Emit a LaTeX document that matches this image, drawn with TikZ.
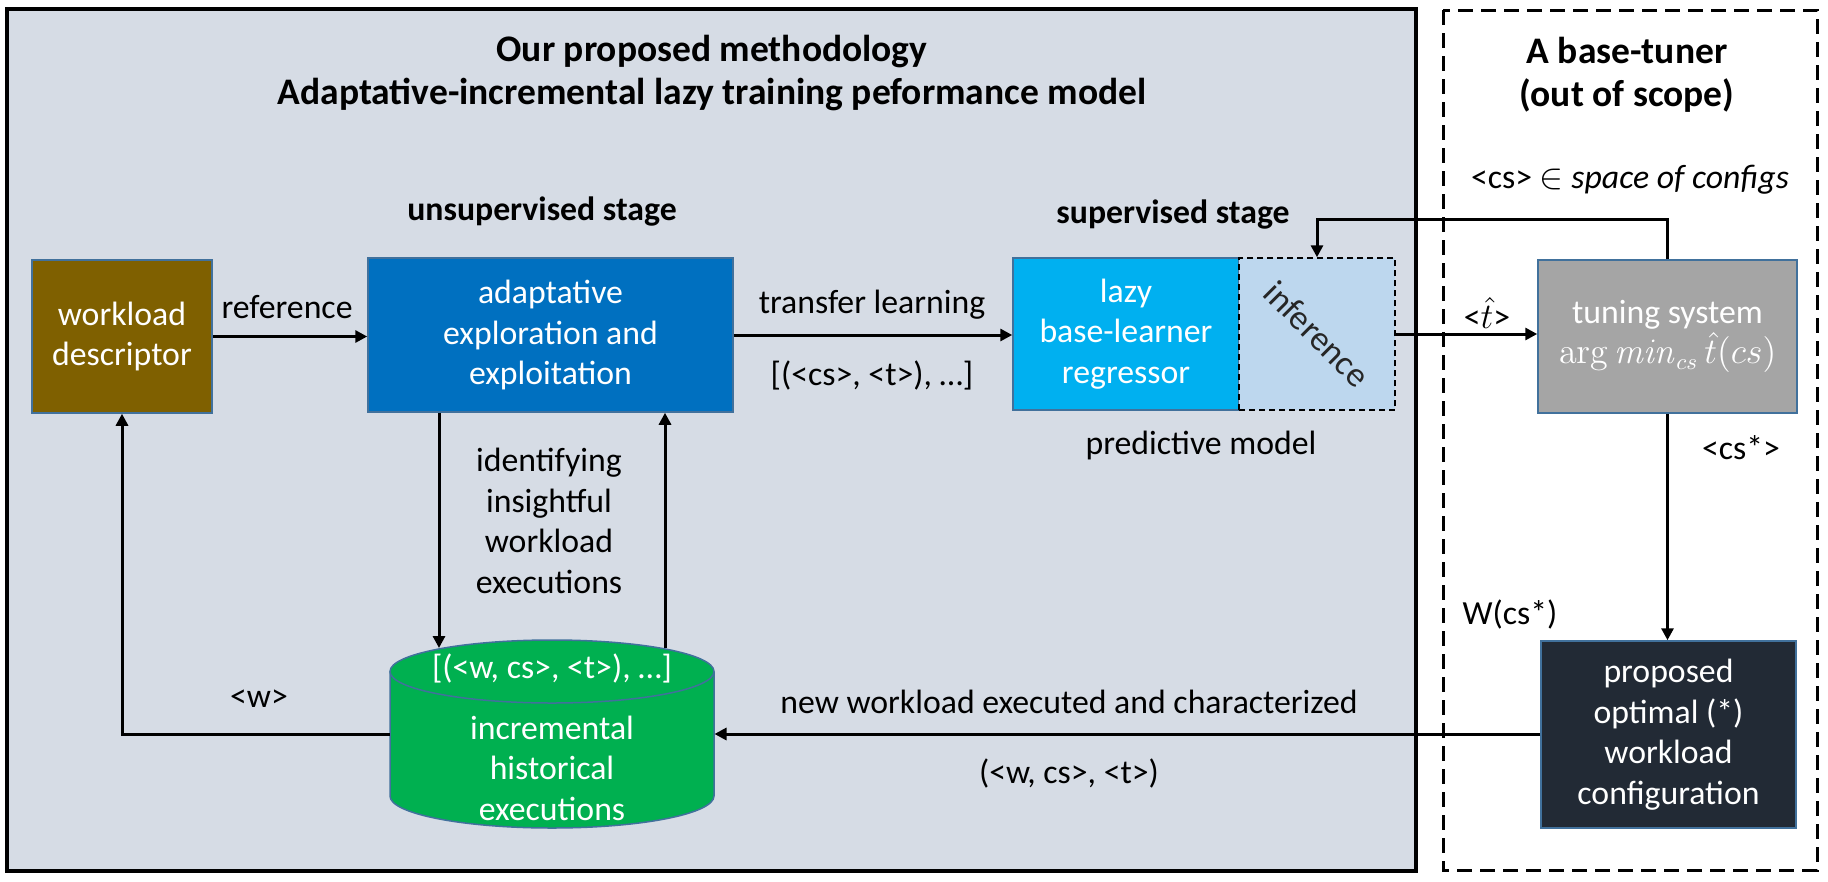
\documentclass[tikz,border=0pt]{standalone}
\usepackage[no-math]{fontspec}
\setmainfont{Carlito}
\usetikzlibrary{arrows.meta}
\definecolor{panel}{HTML}{D6DCE5}
\definecolor{edge}{HTML}{41719C}
\definecolor{brwn}{HTML}{7F6000}
\definecolor{blu}{HTML}{0070C0}
\definecolor{cyn}{HTML}{00B0F0}
\definecolor{infb}{HTML}{BDD7EE}
\definecolor{gry}{HTML}{A5A5A5}
\definecolor{drk}{HTML}{222A35}
\definecolor{grn}{HTML}{00B050}
\newcommand\blk[6]{\node(#1)[blk,fill=#2,minimum width=#3,minimum height=#4] at (#5) {#6};}

\begin{document}
\begin{tikzpicture}[x=0.4pt,y=-0.4pt,
    every node/.style={font=\fontsize{13.5}{16.2}\selectfont,align=center,inner sep=0pt},
    blk/.style={draw=edge,line width=0.6pt,text=white},
    ttl/.style={font=\fontsize{15}{17.2}\selectfont\bfseries},
    stg/.style={font=\fontsize{13.5}{16.2}\selectfont\bfseries},
    arr/.style={line width=1.2pt,-{Triangle[length=4.8pt,width=4.8pt]}}]
    \useasboundingbox (0,0) rectangle (1828,881);
    \draw[line width=1.4pt,fill=panel] (7,9) rectangle (1416,871);
    \draw[line width=1.2pt,dash pattern=on 6pt off 3.2pt] (1443,10) rectangle (1817,870);

    \node(title)[ttl] at (712,73) {Our proposed methodology\\Adaptative-incremental lazy training peformance model};
    \node(tuner)[ttl] at (1627,75) {A base-tuner\\(out of scope)};
    \node(unsup)[stg] at (542,212) {unsupervised stage};
    \node(sup)[stg] at (1173,215) {supervised stage};
    \node(space) at (1630,180) {<cs> $\in$ \textit{space of configs}};

    \blk{wd}{brwn}{72pt}{61.2pt}{122,336.5}{workload\\descriptor}
    \blk{ae}{blu}{146pt}{61.6pt}{550.5,335}{adaptative\\exploration and\\exploitation}
    \blk{lz}{cyn}{90.4pt}{60.8pt}{1126,334}{lazy\\base-learner\\regressor}
    \node(inf)[draw,line width=0.6pt,dash pattern=on 2.4pt off 1.6pt,fill=infb,minimum width=62.4pt,minimum height=60.8pt] at (1317,334) {};
    \node(linf)[rotate=-45,text=black!85,font=\fontsize{14}{16}\selectfont] at (inf) {inference};
    \blk{ts}{gry}{103.6pt}{61.2pt}{1667.5,336.5}{tuning system\\$\arg\mathit{min}_{cs}\,\hat{t}(cs)$}
    \blk{po}{drk}{102pt}{74.8pt}{1668.5,734.5}{proposed\\optimal (*)\\workload\\configuration}

    \fill[grn] (390,671.5) -- (390,796) arc[start angle=180,end angle=0,x radius=162,y radius=32] -- (714,671.5) -- cycle;
    \draw[edge,line width=0.6pt] (390,671.5) -- (390,796) arc[start angle=180,end angle=0,x radius=162,y radius=32] -- (714,671.5);
    \draw[edge,line width=0.6pt,fill=grn] (552,671.5) ellipse[x radius=162,y radius=31.5];
    \node(hist)[minimum width=129.6pt,minimum height=20pt] at (552,734) {};
    \node(hdat)[text=white] at (552,668) {[(<w, cs>, <t>), …]};
    \node(hlbl)[text=white] at (552,768) {incremental\\historical\\executions};
    \coordinate(hl) at (439,648);
    \coordinate(hr) at (665,648);

    \node(lref) at (287,307) {reference};
    \node(lid) at (549,521) {identifying\\insightful\\workload\\executions};
    \node(lw) at (259,699) {<w>};
    \node(ltl) at (872,305) {transfer learning};
    \node(lcst) at (872,375) {[(<cs>, <t>), …]};
    \node(lpm) at (1201,445) {predictive model};
    \node(lth) at (1487,313) {<$\hat{t}$>};
    \node(lcss) at (1741,448) {<cs*>};
    \node(lwcs) at (1510,614) {W(cs*)};
    \node(lnew) at (1069,702) {new workload executed and characterized};
    \node(lwct) at (1069,773) {(<w, cs>, <t>)};

    \draw[arr] (wd.east) -- (wd.east -| ae.west);
    \draw[arr] (ae.south -| hl) -- (hl);
    \draw[arr] (hr) -- (ae.south -| hr);
    \draw[arr] (hist.west) -| (wd.south);
    \draw[arr] (ae.east) -- (ae.east -| lz.west);
    \draw[arr] (inf.east) -- (inf.east -| ts.west);
    \draw[arr] (ts.north) |- ([yshift=15.2pt]inf.north) -- (inf.north);
    \draw[arr] (ts.south) -- (ts.south |- po.north);
    \draw[arr] (po.west |- hist.east) -- (hist.east);
\end{tikzpicture}
\end{document}
